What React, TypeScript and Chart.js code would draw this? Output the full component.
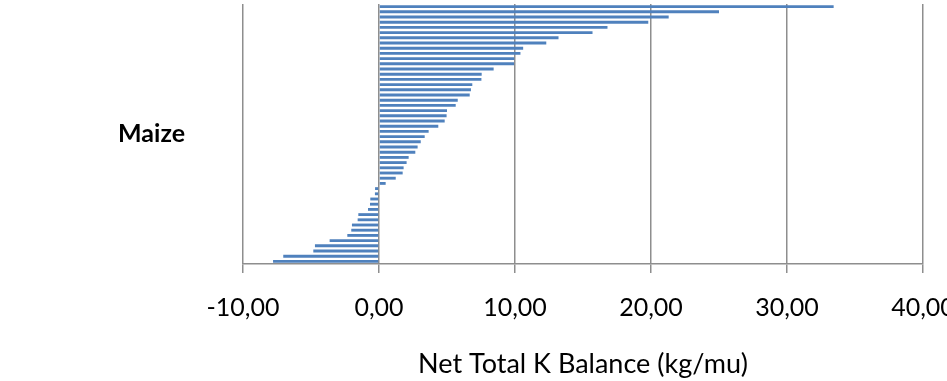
import React, { useEffect, useRef } from "react";
import { Chart, registerables } from "chart.js";

Chart.register(...registerables);

// One category, one bar per farm (sorted from largest surplus to largest deficit)
const categories = ["Maize"];
const balances = [
  33.43, 25.0, 21.3, 19.8, 16.8, 15.7, 13.2, 12.3, 10.6, 10.4,
  9.95, 9.93, 8.43, 7.55, 7.53, 6.86, 6.76, 6.67, 5.79, 5.64,
  5.0, 4.97, 4.83, 4.36, 3.65, 3.36, 3.07, 2.84, 2.67, 2.18,
  2.03, 1.81, 1.74, 1.23, 0.49, -0.29, -0.3, -0.64, -0.66, -0.81,
  -1.52, -1.57, -1.99, -2.04, -2.33, -3.63, -4.71, -4.83, -7.04, -7.79,
];
const xTicks = [-10, 0, 10, 20, 30, 40];
const xTitle = "Net Total K Balance (kg/mu)";

const BAR_COLOR = "#4F81BD";
const GRID_COLOR = "#8e8e8e";
const FONT = "Lato, 'Open Sans', sans-serif";

export default function App() {
  const canvasRef = useRef<HTMLCanvasElement | null>(null);

  useEffect(() => {
    const canvas = canvasRef.current;
    if (!canvas) return;

    const datasets = balances.map((v, i) => ({
      label: `Farm ${i + 1}`,
      data: [v],
      backgroundColor: BAR_COLOR,
      borderWidth: 0,
      categoryPercentage: 1,
      barPercentage: 0.55,
    }));

    const chart = new Chart(canvas, {
      type: "bar",
      data: { labels: categories, datasets },
      options: {
        indexAxis: "y",
        animation: false,
        responsive: false,
        devicePixelRatio: 1,
        layout: { padding: { top: 4, right: 77, left: 0, bottom: 0 } },
        plugins: {
          legend: { display: false },
          tooltip: { enabled: false },
        },
        scales: {
          x: {
            type: "linear",
            min: xTicks[0],
            max: xTicks[xTicks.length - 1],
            afterBuildTicks: (scale: any) => {
              scale.ticks = xTicks.map((value) => ({ value }));
            },
            afterFit: (scale: any) => {
              scale.height = 117;
            },
            grid: {
              color: GRID_COLOR,
              lineWidth: 1.5,
              drawTicks: true,
              tickLength: 9,
              tickColor: GRID_COLOR,
              tickWidth: 1.5,
            },
            border: { display: true, color: GRID_COLOR, width: 1.5 },
            ticks: {
              color: "#000",
              padding: 20,
              maxRotation: 0,
              font: { family: FONT, size: 25 },
              callback: (value: any) => Number(value).toFixed(2).replace(".", ","),
            },
            title: {
              display: true,
              text: xTitle,
              color: "#000",
              padding: { top: 0, bottom: 1 },
              font: { family: FONT, size: 27 },
            },
          },
          y: {
            type: "category",
            afterFit: (scale: any) => {
              scale.width = 243;
              // the single category label sits mid-axis, so no edge allowance is needed
              scale.paddingTop = 0;
              scale.paddingBottom = 0;
            },
            // invisible tick marks keep the category label clear of the plot
            grid: {
              display: true,
              drawOnChartArea: false,
              drawTicks: true,
              tickLength: 58,
              color: "rgba(0,0,0,0)",
              tickColor: "rgba(0,0,0,0)",
            },
            border: { display: false },
            ticks: {
              color: "#000",
              padding: 0,
              font: { family: FONT, size: 25, weight: "bold" },
            },
          },
        },
      },
    });

    return () => chart.destroy();
  }, []);

  return (
    <div
      style={{
        position: "absolute",
        left: 0,
        top: 0,
        width: 947,
        height: 381,
        overflow: "hidden",
        background: "#fff",
      }}
    >
      <canvas ref={canvasRef} width={1000} height={381} style={{ display: "block" }} />
    </div>
  );
}
